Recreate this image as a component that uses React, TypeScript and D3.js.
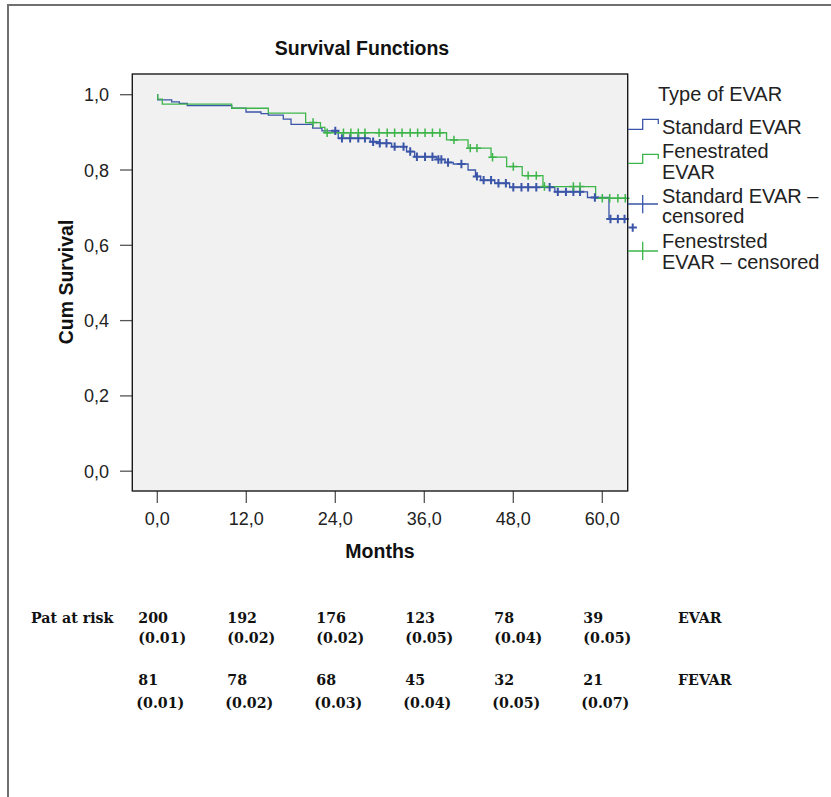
import React from "react";
import * as d3 from "d3";

// ---------- data ----------
const xTicks = [0, 12, 24, 36, 48, 60];
const yTicks = [0, 0.2, 0.4, 0.6, 0.8, 1.0];

// Standard EVAR: event times (months) and survival after each step
const evarEventTimes = [0.05, 1.94, 2.97, 4.04, 10.03, 11.96, 13.98, 14.97, 16.99, 18.03, 20.95, 22.2, 24.4, 28.7, 29.8, 31.6, 33.6, 34.7, 37.7, 38.8, 39.9, 41.9, 42.9, 43.6, 45.5, 47.5, 53.6, 58.0, 60.9, 63.8];
const evarSurvival = [0.986, 0.981, 0.977, 0.971, 0.964, 0.954, 0.95, 0.946, 0.935, 0.921, 0.911, 0.904, 0.884, 0.875, 0.871, 0.862, 0.849, 0.835, 0.828, 0.82, 0.816, 0.8, 0.783, 0.773, 0.765, 0.754, 0.742, 0.727, 0.67, 0.647];
const evarCensorTimes = [24.0, 24.9, 26.0, 27.1, 28.0, 29.1, 30.0, 30.9, 32.0, 33.2, 34.1, 35.0, 36.1, 37.1, 37.9, 38.3, 39.2, 41.0, 43.1, 44.0, 45.0, 46.0, 47.0, 48.0, 49.1, 50.0, 51.1, 52.9, 54.0, 55.1, 56.1, 57.0, 59.0, 61.1, 62.1, 63.0, 64.1];

// Fenestrated EVAR
const fevarEventTimes = [0.05, 0.67, 10.03, 14.97, 20.0, 22.0, 22.6, 39.0, 41.9, 45.0, 47.1, 49.2, 52.0, 59.1];
const fevarSurvival = [0.988, 0.975, 0.964, 0.951, 0.926, 0.913, 0.899, 0.88, 0.858, 0.834, 0.809, 0.785, 0.756, 0.725];
const fevarCensorTimes = [21.0, 22.9, 25.1, 26.1, 27.1, 28.0, 29.9, 31.0, 32.0, 33.0, 34.1, 35.1, 36.1, 37.1, 38.1, 40.0, 42.2, 43.1, 45.2, 48.0, 50.0, 51.1, 52.2, 56.1, 57.0, 60.0, 61.0, 62.1, 63.1];

const riskTimes = [0, 12, 24, 36, 48, 60];
const evarAtRisk = ["200", "192", "176", "123", "78", "39"];
const evarSE = ["(0.01)", "(0.02)", "(0.02)", "(0.05)", "(0.04)", "(0.05)"];
const fevarAtRisk = ["81", "78", "68", "45", "32", "21"];
const fevarSE = ["(0.01)", "(0.02)", "(0.03)", "(0.04)", "(0.05)", "(0.07)"];

const legendTitle = "Type of EVAR";
const chartTitle = "Survival Functions";

// ---------- styles ----------
const BLUE = "#3b55a8";
const GREEN = "#3db54a";
const SANS = "'Liberation Sans', Arial, sans-serif";
const SERIF = "'DejaVu Serif', serif";

export default function App() {
  const W = 831, H = 797;
  const plot = { left: 132.3, right: 627.7, top: 74, bottom: 491 };
  const x = d3.scaleLinear().domain([0, 60]).range([157.3, 602.3]);
  const y = d3.scaleLinear().domain([0, 1]).range([471.2, 94.7]);

  const survAt = (times: number[], surv: number[], t: number) => {
    let s = 1;
    for (let i = 0; i < times.length; i++) if (times[i] <= t) s = surv[i];
    return s;
  };

  const makePath = (times: number[], surv: number[], censor: number[]) => {
    const end = Math.max(times[times.length - 1], censor[censor.length - 1]);
    const pts: [number, number][] = [[0, 1]];
    times.forEach((t, i) => pts.push([t, surv[i]]));
    pts.push([end, surv[surv.length - 1]]);
    const line = d3
      .line<[number, number]>()
      .x((d) => x(d[0]))
      .y((d) => y(d[1]))
      .curve(d3.curveStepAfter);
    return line(pts) || "";
  };

  const cross = (cx: number, cy: number, r: number) =>
    `M${cx - r},${cy}H${cx + r}M${cx},${cy - r}V${cy + r}`;

  const series = [
    { times: evarEventTimes, surv: evarSurvival, censor: evarCensorTimes, color: BLUE, cw: 2 },
    { times: fevarEventTimes, surv: fevarSurvival, censor: fevarCensorTimes, color: GREEN, cw: 1.5 },
  ];

  const tableX = (t: number) => x(t) - 19;

  return (
    <svg
      width={W}
      height={H}
      viewBox={`0 0 ${W} ${H}`}
      style={{ position: "absolute", left: 0, top: 0, display: "block", background: "#fff" }}
    >
      <defs>
        <clipPath id="plotclip">
          <rect x={plot.left} y={plot.top} width={plot.right - plot.left} height={plot.bottom - plot.top} />
        </clipPath>
      </defs>
      {/* outer frame */}
      <path d={`M8,${H}V5H${W}`} fill="none" stroke="#707070" strokeWidth={2} />

      {/* title */}
      <text x={362} y={55} textAnchor="middle" fontFamily={SANS} fontWeight="bold" fontSize={19.5} fill="#111">
        {chartTitle}
      </text>

      {/* plot background */}
      <rect x={plot.left} y={plot.top} width={plot.right - plot.left} height={plot.bottom - plot.top} fill="#f0f1f0" />

      {/* y ticks */}
      {yTicks.map((v) => (
        <g key={"y" + v}>
          <line x1={120} x2={plot.left} y1={y(v)} y2={y(v)} stroke="#555" strokeWidth={1.3} />
          <text x={109} y={y(v) + 6.5} textAnchor="end" fontFamily={SANS} fontSize={18} fill="#222">
            {v.toFixed(1).replace(".", ",")}
          </text>
        </g>
      ))}
      {/* x ticks */}
      {xTicks.map((v) => (
        <g key={"x" + v}>
          <line x1={x(v)} x2={x(v)} y1={plot.bottom} y2={plot.bottom + 12} stroke="#555" strokeWidth={1.3} />
          <text x={x(v)} y={525} textAnchor="middle" fontFamily={SANS} fontSize={18} fill="#222">
            {v.toFixed(1).replace(".", ",")}
          </text>
        </g>
      ))}

      {/* curves */}
      <g clipPath="url(#plotclip)">
        {series.map((s, i) => (
          <path key={"l" + i} d={makePath(s.times, s.surv, s.censor)} fill="none" stroke={s.color} strokeWidth={1.3} />
        ))}
      </g>
      {series.map((s, i) => (
        <path
          key={"c" + i}
          d={s.censor.map((t) => cross(x(t), y(survAt(s.times, s.surv, t)), 4.2)).join("")}
          fill="none"
          stroke={s.color}
          strokeWidth={s.cw}
        />
      ))}

      {/* plot frame */}
      <rect x={plot.left} y={plot.top} width={plot.right - plot.left} height={plot.bottom - plot.top} fill="none" stroke="#1a1a1a" strokeWidth={1.4} />

      {/* axis titles */}
      <text x={380} y={558} textAnchor="middle" fontFamily={SANS} fontWeight="bold" fontSize={19.5} fill="#111">
        Months
      </text>
      <text
        transform={`translate(73,282) rotate(-90)`}
        textAnchor="middle"
        fontFamily={SANS}
        fontWeight="bold"
        fontSize={19.5}
        fill="#111"
      >
        Cum Survival
      </text>

      {/* legend */}
      <g fontFamily={SANS} fontSize={20} fill="#222">
        <text x={658} y={101}>{legendTitle}</text>
        <text x={662} y={134}>Standard EVAR</text>
        <text x={662} y={158.3}>Fenestrated</text>
        <text x={662} y={178.5}>EVAR</text>
        <text x={662} y={202.7}>Standard EVAR –</text>
        <text x={662} y={223.3}>censored</text>
        <text x={662} y={248.3}>Fenestrsted</text>
        <text x={662} y={268.5}>EVAR – censored</text>
      </g>
      <path d="M628,129.3H642.7V119.3H658.3V124" fill="none" stroke={BLUE} strokeWidth={1.3} />
      <path d="M628,163.3H642.7V154.3H658.3V159" fill="none" stroke={GREEN} strokeWidth={1.3} />
      <path d="M628,204H658M642.7,195V213.3" fill="none" stroke={BLUE} strokeWidth={1.3} />
      <path d="M628,251H658M642.7,241.7V260" fill="none" stroke={GREEN} strokeWidth={1.3} />

      {/* patients at risk table */}
      <g fontFamily={SERIF} fontWeight="bold" fontSize={14.2} fill="#111">
        <text x={31} y={623}>Pat at risk</text>
        {riskTimes.map((t, i) => (
          <g key={"r" + t}>
            <text x={tableX(t)} y={623}>{evarAtRisk[i]}</text>
            <text x={tableX(t)} y={643}>{evarSE[i]}</text>
            <text x={tableX(t)} y={685}>{fevarAtRisk[i]}</text>
            <text x={tableX(t) - 2} y={708}>{fevarSE[i]}</text>
          </g>
        ))}
        <text x={678} y={623}>EVAR</text>
        <text x={678} y={685}>FEVAR</text>
      </g>
    </svg>
  );
}
